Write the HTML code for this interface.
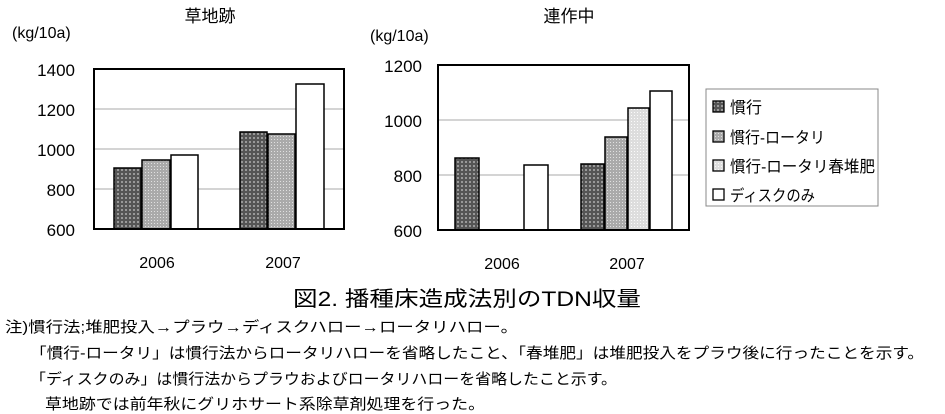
<!DOCTYPE html>
<html><head><meta charset="utf-8"><style>
html,body{margin:0;padding:0;background:#fff;}
svg{display:block;font-family:"Liberation Sans","Noto Sans CJK JP",sans-serif;}
</style></head><body>
<svg width="945" height="414" viewBox="0 0 945 414" xmlns="http://www.w3.org/2000/svg">
<defs>
<pattern id="dk" width="4" height="4" patternUnits="userSpaceOnUse"><rect width="4" height="4" fill="#555"/><rect x="1" y="1" width="2" height="2" fill="#999"/></pattern>
<pattern id="md" width="3" height="3" patternUnits="userSpaceOnUse"><rect width="3" height="3" fill="#aaa"/><rect x="1" y="1" width="1" height="1" fill="#e0e0e0"/></pattern>
<pattern id="lt" width="3" height="3" patternUnits="userSpaceOnUse"><rect width="3" height="3" fill="#ddd"/><rect x="1" y="1" width="1" height="1" fill="#fafafa"/></pattern>
</defs>
<!-- Left chart -->
<text x="210" y="22" font-size="17" text-anchor="middle">草地跡</text>
<text x="12" y="38" font-size="16">(kg/10a)</text>
<g stroke="#aaa" stroke-width="1">
<line x1="94" y1="109" x2="344" y2="109"/><line x1="94" y1="149" x2="344" y2="149"/><line x1="94" y1="189" x2="344" y2="189"/>
</g>
<g stroke="#000" stroke-width="1.5">
<rect x="114" y="168" width="27" height="61" fill="url(#dk)"/>
<rect x="142" y="160" width="28" height="69" fill="url(#md)"/>
<rect x="171" y="155" width="27" height="74" fill="#fff"/>
<rect x="240" y="132" width="27" height="97" fill="url(#dk)"/>
<rect x="268" y="134" width="27" height="95" fill="url(#md)"/>
<rect x="296" y="84" width="28" height="145" fill="#fff"/>
</g>
<rect x="94" y="69" width="250" height="160" fill="none" stroke="#000" stroke-width="2"/>
<g font-size="17" text-anchor="end">
<text x="75" y="76">1400</text><text x="75" y="116">1200</text><text x="75" y="156">1000</text><text x="75" y="196">800</text><text x="75" y="236">600</text>
</g>
<text x="157" y="268" font-size="16" text-anchor="middle">2006</text>
<text x="283" y="268" font-size="16" text-anchor="middle">2007</text>
<!-- Right chart -->
<text x="569" y="22" font-size="17" text-anchor="middle">連作中</text>
<text x="370" y="41" font-size="16">(kg/10a)</text>
<g stroke="#aaa" stroke-width="1">
<line x1="438" y1="120" x2="689" y2="120"/><line x1="438" y1="175" x2="689" y2="175"/>
</g>
<g stroke="#000" stroke-width="1.5">
<rect x="455" y="158" width="24" height="72" fill="url(#dk)"/>
<rect x="524" y="165" width="24" height="65" fill="#fff"/>
<rect x="581" y="164" width="23" height="66" fill="url(#dk)"/>
<rect x="605" y="137" width="22" height="93" fill="url(#md)"/>
<rect x="628" y="108" width="21" height="122" fill="url(#lt)"/>
<rect x="650" y="91" width="22" height="139" fill="#fff"/>
</g>
<rect x="438" y="65" width="251" height="165" fill="none" stroke="#000" stroke-width="2"/>
<g font-size="17" text-anchor="end">
<text x="422" y="72">1200</text><text x="422" y="127">1000</text><text x="422" y="182">800</text><text x="422" y="237">600</text>
</g>
<text x="502" y="269" font-size="16" text-anchor="middle">2006</text>
<text x="627" y="269" font-size="16" text-anchor="middle">2007</text>
<!-- Legend -->
<rect x="706" y="89" width="172" height="117" fill="#fff" stroke="#888" stroke-width="1"/>
<g stroke="#000" stroke-width="1.3">
<rect x="713" y="101" width="11" height="11" fill="url(#dk)"/>
<rect x="713" y="131" width="11" height="11" fill="url(#md)"/>
<rect x="713" y="160" width="11" height="11" fill="url(#lt)"/>
<rect x="713" y="189" width="11" height="11" fill="#fff"/>
</g>
<g font-size="16">
<text x="730" y="113">慣行</text>
<text x="730" y="143" textLength="95" lengthAdjust="spacingAndGlyphs">慣行-ロータリ</text>
<text x="730" y="172" textLength="145" lengthAdjust="spacingAndGlyphs">慣行-ロータリ春堆肥</text>
<text x="730" y="201" textLength="85" lengthAdjust="spacingAndGlyphs">ディスクのみ</text>
</g>
<!-- Caption -->
<text x="293" y="306" font-size="21" textLength="348" lengthAdjust="spacingAndGlyphs">図2. 播種床造成法別のTDN収量</text>
<g font-size="15">
<text x="5" y="332" textLength="513" lengthAdjust="spacingAndGlyphs">注)慣行法;堆肥投入→プラウ→ディスクハロー→ロータリハロー。</text>
<text x="30" y="358" textLength="894" lengthAdjust="spacingAndGlyphs">「慣行-ロータリ」は慣行法からロータリハローを省略したこと、「春堆肥」は堆肥投入をプラウ後に行ったことを示す。</text>
<text x="30" y="384" textLength="587" lengthAdjust="spacingAndGlyphs">「ディスクのみ」は慣行法からプラウおよびロータリハローを省略したこと示す。</text>
<text x="45" y="409" textLength="440" lengthAdjust="spacingAndGlyphs">草地跡では前年秋にグリホサート系除草剤処理を行った。</text>
</g>
</svg>
</body></html>
